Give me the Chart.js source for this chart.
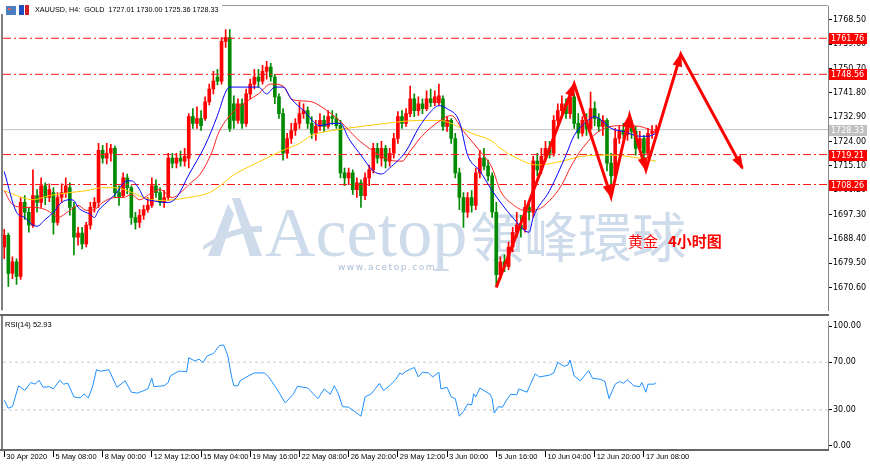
<!DOCTYPE html>
<html>
<head>
<meta charset="utf-8">
<script src="https://cdn.jsdelivr.net/npm/chart.js@4.4.0/dist/chart.umd.min.js"></script>
<style>
    html, body { margin: 0; padding: 0; background: #fff; }
    #wrap { position: relative; width: 870px; height: 466px; overflow: hidden; }
    #main { position: absolute; left: 0; top: 0; }
    #rsi { position: absolute; left: 0; top: 316px; }
</style>
</head>
<body>
<div id="wrap">
    <canvas id="main" width="870" height="316"></canvas>
    <canvas id="rsi" width="870" height="150"></canvas>
</div>
<script>
// XAUUSD H4, one value per bar (bar 0 = 30 Apr 2020)
const barOpen = [
    1685.4, 1689.7, 1675.7, 1680.0, 1674.6, 1701.7, 1698.1, 1693.4, 1704.2, 1701.7,
    1707.8, 1703.5, 1705.3, 1694.4, 1703.5, 1705.3, 1707.1, 1699.9, 1689.0, 1690.5,
    1686.5, 1693.4, 1699.9, 1701.7, 1720.8, 1717.9, 1719.7, 1721.5, 1705.3, 1704.2,
    1710.7, 1707.1, 1696.2, 1694.4, 1697.0, 1699.1, 1700.6, 1707.8, 1705.3, 1701.7,
    1703.5, 1717.9, 1716.1, 1717.9, 1716.8, 1717.9, 1733.1, 1730.6, 1732.4, 1732.4,
    1738.5, 1743.2, 1747.6, 1746.1, 1760.6, 1762.0, 1737.8, 1731.7, 1737.8, 1730.6,
    1741.4, 1745.0, 1747.6, 1746.1, 1749.7, 1751.2, 1747.6, 1740.3, 1734.2, 1719.7,
    1725.1, 1728.0, 1730.6, 1734.2, 1735.3, 1730.6, 1727.0, 1729.5, 1731.7, 1729.5,
    1733.1, 1732.4, 1729.8, 1712.5, 1710.7, 1712.5, 1706.4, 1708.9, 1704.2, 1710.7,
    1713.6, 1721.5, 1717.9, 1721.5, 1716.8, 1719.7, 1725.1, 1733.1, 1730.6, 1734.2,
    1739.6, 1735.3, 1737.8, 1736.0, 1739.6, 1738.2, 1738.2, 1739.6, 1729.5, 1731.7,
    1725.1, 1712.5, 1703.5, 1698.1, 1703.5, 1700.6, 1712.5, 1717.9, 1715.0, 1711.4,
    1698.1, 1675.3, 1680.0, 1678.2, 1685.4, 1690.8, 1693.4, 1691.9, 1699.9, 1698.1,
    1716.8, 1713.6, 1718.6, 1721.5, 1719.7, 1731.7, 1735.3, 1737.8, 1734.2, 1740.3,
    1730.6, 1727.0, 1731.7, 1728.8, 1736.0, 1732.4, 1729.5, 1731.7, 1716.1, 1711.4,
    1725.1, 1728.0, 1726.6, 1729.5, 1727.7, 1721.5, 1725.1, 1719.7, 1727.0, 1727.01
];
const barHigh = [
    1691.9, 1690.5, 1681.8, 1681.1, 1703.5, 1704.2, 1699.9, 1713.6, 1706.4, 1710.7,
    1708.9, 1708.5, 1707.1, 1705.3, 1708.5, 1710.7, 1708.9, 1701.7, 1692.6, 1692.6,
    1694.4, 1701.7, 1703.5, 1723.3, 1722.6, 1723.3, 1723.0, 1722.3, 1707.8, 1712.5,
    1712.1, 1707.8, 1698.1, 1699.1, 1700.6, 1703.5, 1710.7, 1710.0, 1707.1, 1706.0,
    1719.7, 1719.7, 1719.7, 1720.5, 1721.5, 1734.2, 1736.0, 1736.7, 1735.3, 1740.3,
    1745.0, 1749.7, 1750.4, 1762.0, 1764.9, 1764.9, 1740.7, 1739.6, 1739.6, 1743.2,
    1746.8, 1750.4, 1750.4, 1751.9, 1753.3, 1752.6, 1748.6, 1741.4, 1736.0, 1727.0,
    1730.6, 1732.4, 1738.5, 1737.8, 1736.7, 1733.1, 1731.7, 1734.2, 1733.5, 1735.3,
    1735.3, 1734.2, 1731.7, 1714.3, 1714.3, 1713.6, 1710.7, 1710.0, 1712.5, 1715.4,
    1723.3, 1723.3, 1724.1, 1722.6, 1721.5, 1727.0, 1734.9, 1735.3, 1736.0, 1744.3,
    1741.4, 1740.3, 1739.6, 1742.5, 1743.2, 1742.5, 1745.0, 1740.7, 1733.1, 1732.4,
    1727.0, 1714.3, 1705.3, 1705.3, 1706.0, 1714.3, 1720.8, 1721.5, 1717.2, 1712.5,
    1701.7, 1681.8, 1682.5, 1687.2, 1692.6, 1698.1, 1697.0, 1702.4, 1701.7, 1718.6,
    1719.7, 1721.5, 1724.1, 1724.1, 1733.5, 1737.8, 1740.7, 1739.6, 1742.5, 1741.4,
    1734.2, 1733.1, 1734.2, 1742.1, 1738.5, 1734.2, 1733.5, 1732.4, 1719.7, 1728.8,
    1729.8, 1730.6, 1732.4, 1731.7, 1729.5, 1727.7, 1726.2, 1728.8, 1729.8, 1730.00
];
const barLow = [
    1681.1, 1671.0, 1673.8, 1671.7, 1673.5, 1695.5, 1690.8, 1692.6, 1698.1, 1699.9,
    1700.9, 1702.0, 1690.1, 1693.4, 1701.7, 1703.5, 1697.0, 1682.5, 1686.1, 1684.7,
    1685.4, 1691.9, 1698.1, 1699.9, 1716.1, 1715.8, 1716.8, 1703.5, 1700.6, 1703.5,
    1704.9, 1693.7, 1691.9, 1692.6, 1695.5, 1698.1, 1699.9, 1703.5, 1700.6, 1699.9,
    1702.4, 1714.3, 1714.3, 1715.0, 1715.0, 1714.3, 1728.8, 1728.8, 1728.0, 1731.7,
    1737.4, 1741.4, 1744.7, 1745.0, 1758.4, 1727.7, 1728.8, 1730.6, 1728.8, 1729.5,
    1739.6, 1743.2, 1743.9, 1745.0, 1746.8, 1746.1, 1737.8, 1732.4, 1717.2, 1717.9,
    1723.3, 1726.2, 1728.8, 1732.4, 1728.8, 1725.1, 1724.4, 1728.0, 1727.7, 1728.8,
    1730.2, 1728.8, 1710.7, 1707.8, 1708.2, 1704.6, 1703.5, 1699.9, 1702.7, 1707.8,
    1712.5, 1716.1, 1715.0, 1714.3, 1715.0, 1717.9, 1723.3, 1728.8, 1729.5, 1733.1,
    1733.1, 1733.5, 1734.2, 1735.3, 1736.7, 1737.1, 1737.4, 1728.0, 1727.7, 1723.3,
    1710.7, 1699.1, 1692.6, 1696.2, 1698.1, 1699.1, 1710.7, 1713.6, 1709.6, 1696.2,
    1671.0, 1673.8, 1676.4, 1677.1, 1683.6, 1689.0, 1689.0, 1690.8, 1695.2, 1696.2,
    1711.4, 1712.1, 1716.8, 1717.9, 1718.6, 1729.5, 1733.1, 1732.4, 1732.4, 1728.8,
    1725.1, 1725.9, 1726.2, 1728.0, 1729.8, 1727.7, 1726.2, 1713.2, 1708.2, 1710.0,
    1723.3, 1725.1, 1724.4, 1725.1, 1719.0, 1720.5, 1715.4, 1717.9, 1725.1, 1725.36
];
const barClose = [
    1689.7, 1675.7, 1680.0, 1674.6, 1701.7, 1698.1, 1693.4, 1704.2, 1701.7, 1707.8,
    1703.5, 1706.4, 1694.4, 1703.5, 1705.3, 1707.8, 1699.9, 1689.0, 1690.5, 1686.5,
    1693.4, 1699.9, 1701.7, 1720.8, 1717.9, 1719.7, 1721.5, 1705.3, 1703.5, 1710.7,
    1707.1, 1696.2, 1694.4, 1697.0, 1699.1, 1700.6, 1707.8, 1705.3, 1701.7, 1703.5,
    1717.9, 1716.1, 1717.9, 1716.8, 1718.6, 1733.1, 1730.6, 1732.4, 1729.8, 1738.5,
    1743.2, 1746.1, 1746.1, 1760.6, 1762.0, 1728.8, 1731.7, 1737.8, 1730.6, 1741.4,
    1745.0, 1747.6, 1746.1, 1749.7, 1751.2, 1747.6, 1740.3, 1734.2, 1719.7, 1725.1,
    1728.0, 1730.6, 1734.2, 1735.3, 1730.6, 1727.0, 1729.5, 1731.7, 1729.5, 1733.1,
    1732.4, 1729.8, 1712.5, 1710.7, 1712.5, 1706.4, 1708.9, 1704.2, 1710.7, 1713.6,
    1721.5, 1717.9, 1721.5, 1716.8, 1719.7, 1725.1, 1733.1, 1730.6, 1734.2, 1739.6,
    1735.3, 1737.8, 1736.0, 1739.6, 1738.2, 1740.3, 1740.7, 1729.5, 1731.7, 1725.1,
    1712.5, 1703.5, 1698.1, 1703.5, 1700.6, 1712.5, 1717.9, 1715.0, 1711.4, 1698.1,
    1675.3, 1680.0, 1678.2, 1685.4, 1690.8, 1693.4, 1691.9, 1699.9, 1698.1, 1716.8,
    1713.6, 1718.6, 1721.5, 1719.7, 1731.7, 1735.3, 1737.8, 1734.2, 1740.3, 1730.6,
    1727.0, 1731.7, 1728.8, 1736.0, 1732.4, 1729.5, 1731.7, 1716.1, 1711.4, 1725.1,
    1728.0, 1726.6, 1729.5, 1727.7, 1721.5, 1725.1, 1719.7, 1727.0, 1727.7, 1728.33
];

// moving averages, read at some bars
const maBlueBar = [0, 3, 5, 7, 8, 10, 12, 14, 16, 17, 18, 21, 22, 23, 25, 27, 30, 31, 33, 34, 36, 40, 42, 45, 49, 52, 54, 55, 60, 62, 64, 66, 68, 70, 73, 77, 80, 82, 84, 87, 90, 92, 94, 98, 101, 104, 106, 108, 111, 113, 116, 119, 124, 128, 129, 133, 137, 139, 142, 144, 146, 148, 151, 155, 157, 159];
const maBlueVal = [1713.0, 1698.1, 1696.2, 1693.4, 1693.0, 1695.5, 1698.1, 1701.7, 1702.7, 1702.4, 1699.9, 1697.3, 1696.2, 1698.8, 1701.7, 1704.6, 1709.6, 1709.6, 1706.4, 1703.5, 1702.4, 1701.7, 1703.5, 1711.8, 1722.6, 1733.5, 1742.1, 1743.9, 1743.9, 1743.9, 1741.4, 1743.9, 1743.9, 1739.6, 1735.3, 1729.8, 1730.6, 1730.6, 1725.1, 1719.0, 1713.2, 1712.1, 1714.3, 1720.5, 1728.8, 1734.9, 1737.1, 1736.0, 1731.3, 1719.0, 1713.2, 1706.0, 1696.2, 1690.8, 1696.2, 1706.0, 1719.0, 1726.2, 1731.3, 1733.1, 1731.3, 1728.8, 1727.7, 1725.9, 1725.9, 1727.0];
const maRedBar = [0, 2, 5, 7, 10, 12, 13, 16, 18, 20, 22, 24, 27, 29, 31, 33, 36, 38, 41, 43, 45, 48, 51, 52, 55, 59, 62, 65, 68, 70, 72, 75, 78, 82, 86, 90, 94, 97, 99, 102, 106, 109, 112, 116, 119, 121, 124, 127, 130, 133, 136, 138, 141, 145, 148, 151, 155, 158];
const maRedVal = [1706.0, 1701.0, 1699.9, 1699.9, 1699.1, 1697.3, 1696.2, 1698.8, 1700.6, 1698.8, 1699.1, 1701.7, 1703.5, 1703.5, 1704.6, 1702.7, 1705.3, 1706.4, 1703.5, 1705.3, 1708.2, 1712.5, 1721.5, 1726.2, 1733.5, 1738.5, 1741.4, 1745.0, 1744.3, 1739.6, 1738.9, 1738.5, 1736.0, 1731.3, 1725.1, 1720.5, 1717.2, 1716.8, 1720.5, 1726.2, 1731.3, 1733.5, 1727.7, 1720.5, 1714.3, 1706.0, 1701.0, 1698.8, 1699.1, 1702.4, 1708.2, 1714.3, 1721.5, 1727.7, 1729.5, 1729.8, 1729.5, 1728.0];
const maYellowBar = [0, 3, 7, 11, 16, 20, 24, 27, 30, 34, 38, 45, 50, 53, 56, 60, 64, 68, 72, 75, 80, 87, 93, 97, 101, 106, 109, 114, 119, 121, 125, 130, 136, 141, 148, 155, 159];
const maYellowVal = [1706.0, 1704.2, 1702.7, 1704.2, 1705.3, 1706.0, 1707.1, 1707.1, 1706.0, 1703.5, 1702.4, 1703.5, 1705.3, 1708.2, 1711.8, 1715.0, 1717.9, 1720.8, 1723.3, 1726.2, 1728.0, 1729.5, 1730.6, 1731.3, 1731.7, 1731.7, 1730.6, 1727.0, 1724.1, 1721.5, 1717.9, 1715.4, 1716.8, 1718.6, 1719.0, 1717.9, 1716.8];

// RSI(14), read at some bars
const rsiBar = [0, 1, 2, 3.5, 5, 6.5, 7.5, 8.5, 9.5, 11, 12, 13.5, 14.5, 15.5, 17, 18.5, 19.5, 20.5, 21.5, 22.5, 23.5, 25.5, 27.5, 29.5, 31, 32.5, 35, 36, 36.5, 39, 40, 40.5, 42.5, 43.5, 44.5, 45, 46.5, 47.5, 48.5, 49.5, 51, 52.5, 53.5, 54.5, 55.5, 56, 57, 57.5, 59.5, 61, 63.5, 64.5, 66.5, 68.5, 70.5, 71.5, 74, 76.5, 78, 79.5, 80.5, 81.5, 82.5, 84, 86, 87, 88, 89.5, 91.5, 92.5, 94, 95.5, 96.5, 97, 98, 100, 101, 102, 103.5, 104.5, 106, 106.5, 108, 109, 110, 111, 112, 113, 114, 114.5, 115, 116, 118.5, 119, 119.5, 120.5, 121.5, 122.5, 123.5, 125, 125.5, 127.5, 128, 129.5, 130.5, 133, 134, 135, 136.5, 137.5, 138, 139, 140.5, 142.5, 143.5, 145.5, 146.5, 147.5, 149, 150, 151, 152, 153.5, 155, 155.5, 156.5, 157, 158.5, 159];
const rsiVal = [38.2, 31.5, 32.8, 50.3, 46.3, 53.0, 51.6, 54.8, 49.0, 49.5, 47.6, 54.8, 51.6, 52.4, 40.9, 40.1, 43.5, 40.1, 49.0, 63.7, 62.4, 63.7, 49.0, 54.4, 44.9, 44.1, 47.6, 56.5, 49.5, 50.3, 53.0, 58.4, 62.4, 62.4, 61.9, 73.7, 71.0, 72.6, 69.7, 75.3, 77.2, 83.9, 84.4, 75.8, 57.0, 50.3, 50.3, 54.4, 58.4, 61.0, 61.0, 57.6, 47.6, 36.0, 43.1, 49.8, 48.4, 39.5, 47.6, 43.1, 50.3, 43.5, 32.8, 32.3, 27.4, 24.8, 40.9, 43.5, 52.2, 46.3, 50.3, 55.6, 61.0, 59.7, 62.4, 65.6, 57.6, 61.6, 61.0, 57.6, 61.6, 47.6, 49.0, 40.9, 39.5, 24.8, 28.8, 35.0, 34.2, 43.5, 40.9, 48.4, 43.1, 39.5, 27.4, 32.8, 32.3, 38.2, 43.1, 42.7, 47.6, 44.9, 49.0, 60.2, 57.6, 59.2, 61.0, 69.9, 66.5, 67.7, 71.8, 58.4, 54.4, 62.9, 56.5, 55.6, 53.8, 39.5, 51.6, 53.8, 52.4, 55.2, 50.3, 49.5, 53.0, 44.9, 51.6, 51.6, 52.93];
const rsiLevels = [70, 30];

// horizontal levels and the forecast zigzag
const levelPrices = [1761.76, 1748.56, 1719.21, 1708.26];
const lastPrice = 1728.33;
const zigBar = [120, 139, 148, 152.5, 156.5, 165, 180];
const zigPrice = [1670.6, 1745.0, 1703.8, 1733.5, 1713.6, 1755.9, 1714.3];

// axes
const priceTicks = [1768.50, 1759.60, 1750.70, 1741.80, 1732.90, 1724.00, 1715.10, 1706.20, 1697.30, 1688.40, 1679.50, 1670.60];
const rsiTicks = [100, 70, 30, 0];
const timeBars = [0, 12, 24, 36, 48, 60, 72, 84, 96, 108, 120, 132, 144, 156];
const timeLabels = ['30 Apr 2020', '5 May 08:00', '8 May 00:00', '12 May 12:00', '15 May 04:00', '19 May 16:00', '22 May 08:00', '26 May 20:00', '29 May 12:00', '3 Jun 00:00', '5 Jun 16:00', '10 Jun 04:00', '12 Jun 20:00', '17 Jun 08:00'];

const X_MIN = -0.3, X_MAX = 200.9;
const UP = '#ff0000', DOWN = '#008a00';

const bars = barOpen.map((o, i) => i);
const candleColors = bars.map(i => barClose[i] >= barOpen[i] ? UP : DOWN);
const pts = (xs, ys) => xs.map((x, i) => ({ x: x, y: ys[i] }));
const flat = v => [{ x: X_MIN, y: v }, { x: X_MAX, y: v }];

const frame = {
    id: 'frame',
    beforeDatasetsDraw(chart) {
        if (chart.canvas.id !== 'main') return;
        const ctx = chart.ctx;
        ctx.save();
        // watermark
        ctx.fillStyle = '#cddbea';
        ctx.beginPath();
        ctx.moveTo(232, 198); ctx.lineTo(240, 198); ctx.lineTo(262, 256); ctx.lineTo(250, 256);
        ctx.closePath(); ctx.fill();
        ctx.beginPath();
        ctx.moveTo(228, 204); ctx.lineTo(234, 214); ctx.lineTo(220, 256); ctx.lineTo(208, 256);
        ctx.closePath(); ctx.fill();
        ctx.beginPath();
        ctx.moveTo(203, 246); ctx.quadraticCurveTo(230, 226, 262, 226); ctx.lineTo(262, 232);
        ctx.quadraticCurveTo(232, 232, 203, 250);
        ctx.closePath(); ctx.fill();
        ctx.font = '70px "Liberation Serif"';
        ctx.textBaseline = 'alphabetic';
        ctx.fillText('Acetop', 265, 256);
        ctx.font = '54px "Noto Sans CJK TC"';
        ctx.fillText('領峰環球', 470, 258);
        ctx.fillStyle = '#a9bed3';
        ctx.font = '9px "DejaVu Sans"';
        ctx.letterSpacing = '1.5px';
        ctx.fillText('www.acetop.com', 338, 270);
        ctx.restore();
    },
    afterDatasetsDraw(chart) {
        if (chart.canvas.id !== 'main') return;
        const ctx = chart.ctx;
        const meta = chart.getDatasetMeta(0);
        const p = meta.data;
        ctx.save();
        ctx.fillStyle = '#ff0000';
        for (let i = 1; i < p.length; i++) {
            const a = p[i - 1], b = p[i];
            const ang = Math.atan2(b.y - a.y, b.x - a.x);
            ctx.beginPath();
            ctx.moveTo(b.x + 2 * Math.cos(ang), b.y + 2 * Math.sin(ang));
            ctx.lineTo(b.x - 13 * Math.cos(ang - 0.38), b.y - 13 * Math.sin(ang - 0.38));
            ctx.lineTo(b.x - 13 * Math.cos(ang + 0.38), b.y - 13 * Math.sin(ang + 0.38));
            ctx.closePath();
            ctx.fill();
        }
        ctx.font = '15px "Noto Sans CJK SC"';
        ctx.textBaseline = 'middle';
        ctx.fillText('黄金', 628, 241);
        ctx.font = 'bold 15px "Noto Sans CJK SC"';
        ctx.fillText('4小时图', 668, 241);
        ctx.restore();
    },
    afterDraw(chart) {
        const ctx = chart.ctx;
        const a = chart.chartArea;
        ctx.save();
        ctx.strokeStyle = '#555';
        ctx.lineWidth = 1.5;
        ctx.beginPath();
        ctx.moveTo(2, chart.canvas.id === 'main' ? 14 : 0); ctx.lineTo(2, a.bottom);
        ctx.stroke();
        ctx.strokeStyle = '#666';
        ctx.lineWidth = 2;
        ctx.beginPath();
        if (chart.canvas.id === 'main') {
            ctx.moveTo(0, 315); ctx.lineTo(829, 315);
        } else {
            ctx.moveTo(0, a.bottom); ctx.lineTo(829, a.bottom);
        }
        ctx.stroke();
        if (chart.canvas.id === 'main') {
            ctx.strokeStyle = '#999';
            ctx.lineWidth = 1;
            ctx.beginPath(); ctx.moveTo(222, 5.5); ctx.lineTo(828, 5.5); ctx.stroke();
            const y = chart.scales.y;
            ctx.font = '8px "DejaVu Sans"';
            ctx.textBaseline = 'middle';
            const tag = (v, bg) => {
                const py = Math.round(y.getPixelForValue(v));
                ctx.fillStyle = bg;
                ctx.fillRect(829, py - 5, 38, 11);
                ctx.fillStyle = '#fff';
                ctx.fillText(v.toFixed(2), 831, py + 0.5);
            };
            levelPrices.forEach(v => tag(v, '#ff0000'));
            tag(lastPrice, '#c0c0c0');
            // title
            ctx.fillStyle = '#4a7fc1';
            ctx.fillRect(6, 6, 10, 9);
            ctx.fillStyle = '#e06060';
            ctx.fillRect(8, 8, 3, 2);
            ctx.fillStyle = '#2050c0';
            ctx.fillRect(19, 5, 5, 10);
            ctx.fillStyle = '#d02020';
            ctx.fillRect(25, 5, 4, 10);
            ctx.fillStyle = '#000';
            ctx.font = '7.2px "Liberation Sans"';
            ctx.fillText('XAUUSD, H4:  GOLD  1727.01 1730.00 1725.36 1728.33', 35, 10);
        } else {
            ctx.fillStyle = '#000';
            ctx.font = '7.5px "Liberation Sans"';
            ctx.textBaseline = 'middle';
            ctx.fillText('RSI(14) 52.93', 5, 9);
        }
        ctx.restore();
    }
};

new Chart(document.getElementById('main'), {
    data: {
        datasets: [
            { type: 'line', data: pts(zigBar, zigPrice), borderColor: '#ff0000', borderWidth: 3, pointRadius: 0, order: 0, borderJoinStyle: 'miter' },
            { type: 'line', data: pts(maBlueBar, maBlueVal), borderColor: '#0000ff', borderWidth: 1, pointRadius: 0, cubicInterpolationMode: 'monotone', order: 1 },
            { type: 'line', data: pts(maRedBar, maRedVal), borderColor: '#ff2020', borderWidth: 1, pointRadius: 0, cubicInterpolationMode: 'monotone', order: 2 },
            { type: 'line', data: pts(maYellowBar, maYellowVal), borderColor: '#ffcc00', borderWidth: 1, pointRadius: 0, cubicInterpolationMode: 'monotone', order: 3 },
            ...levelPrices.map(v => ({ type: 'line', data: flat(v), borderColor: '#ff1a1a', borderWidth: 1, borderDash: [8, 3, 2, 3], pointRadius: 0, order: 4 })),
            { type: 'bar', data: bars.map(i => ({ x: i, y: [barOpen[i], barClose[i]] })), backgroundColor: candleColors, barThickness: 3, minBarLength: 1, grouped: false, order: 5 },
            { type: 'bar', data: bars.map(i => ({ x: i, y: [barLow[i], barHigh[i]] })), backgroundColor: candleColors, barThickness: 1, grouped: false, order: 6 },
            { type: 'line', data: flat(lastPrice), borderColor: '#c0c0c0', borderWidth: 1, pointRadius: 0, order: 7 }
        ]
    },
    options: {
        responsive: false,
        animation: false,
        events: [],
        layout: { padding: { left: 3, top: 6, right: 0, bottom: 2 } },
        plugins: { legend: { display: false }, tooltip: { enabled: false } },
        scales: {
            x: { type: 'linear', min: X_MIN, max: X_MAX, display: false, offset: false, grid: { offset: false } },
            y: {
                position: 'right',
                min: 1662.28, max: 1773.56,
                afterFit: s => { s.width = 42; },
                afterBuildTicks: s => { s.ticks = priceTicks.map(v => ({ value: v })); },
                ticks: { callback: v => v.toFixed(2), color: '#000', font: { family: 'DejaVu Sans', size: 8 }, padding: 1 },
                grid: { drawOnChartArea: false, tickLength: 4, color: '#000' },
                border: { display: true, color: '#888', width: 1 }
            }
        }
    },
    plugins: [frame]
});

new Chart(document.getElementById('rsi'), {
    type: 'line',
    data: {
        datasets: [
            { data: pts(rsiBar, rsiVal), borderColor: '#1e90ff', borderWidth: 1, pointRadius: 0, order: 0 },
            ...rsiLevels.map(v => ({ data: flat(v), borderColor: '#c8c8c8', borderWidth: 1, borderDash: [3, 3], pointRadius: 0, order: 1 }))
        ]
    },
    options: {
        responsive: false,
        animation: false,
        events: [],
        layout: { padding: { left: 3, top: 1, right: 0, bottom: 0 } },
        plugins: { legend: { display: false }, tooltip: { enabled: false } },
        scales: {
            x: {
                type: 'linear', min: X_MIN, max: X_MAX, offset: false,
                afterFit: s => { s.height = 16; },
                afterBuildTicks: s => { s.ticks = timeBars.map(v => ({ value: v })); },
                ticks: {
                    callback: v => timeLabels[timeBars.indexOf(v)],
                    autoSkip: false, maxRotation: 0, align: 'start', labelOffset: 2,
                    padding: -5, color: '#000', font: { family: 'Liberation Sans', size: 7.5 }
                },
                grid: { drawOnChartArea: false, tickLength: 7, color: '#000' },
                border: { display: false }
            },
            y: {
                position: 'right',
                min: -3.5, max: 103.8,
                afterFit: s => { s.width = 42; },
                afterBuildTicks: s => { s.ticks = rsiTicks.map(v => ({ value: v })); },
                ticks: { callback: v => v.toFixed(2), color: '#000', font: { family: 'DejaVu Sans', size: 8 }, padding: 1 },
                grid: { drawOnChartArea: false, tickLength: 4, color: '#000' },
                border: { display: true, color: '#888', width: 1 }
            }
        }
    },
    plugins: [frame]
});
</script>
</body>
</html>
